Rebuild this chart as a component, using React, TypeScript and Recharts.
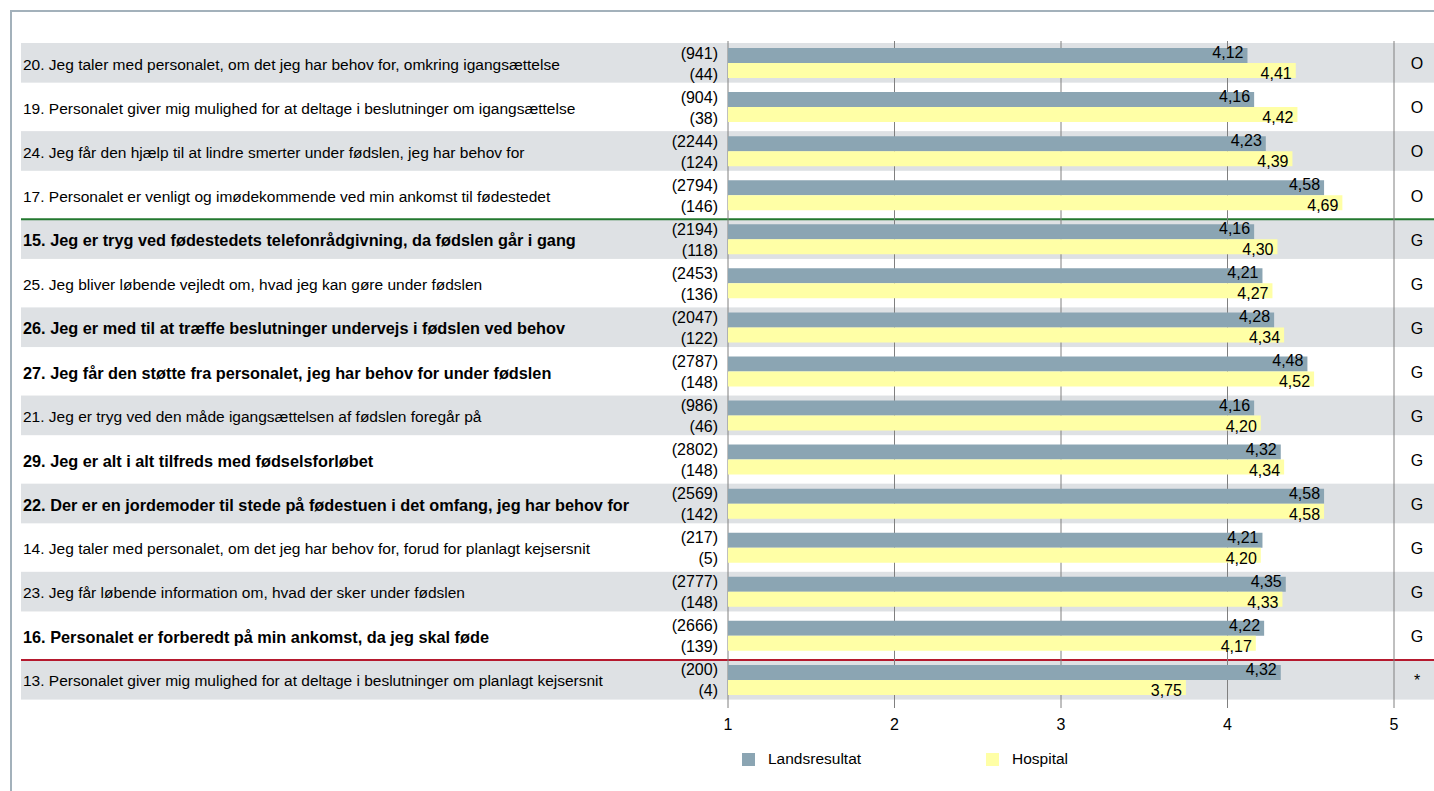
import React from 'react';
import {
  BarChart,
  Bar,
  XAxis,
  YAxis,
  CartesianGrid,
  LabelList,
} from 'recharts';

const QUESTIONS = [
  '20. Jeg taler med personalet, om det jeg har behov for, omkring igangsættelse',
  '19. Personalet giver mig mulighed for at deltage i beslutninger om igangsættelse',
  '24. Jeg får den hjælp til at lindre smerter under fødslen, jeg har behov for',
  '17. Personalet er venligt og imødekommende ved min ankomst til fødestedet',
  '15. Jeg er tryg ved fødestedets telefonrådgivning, da fødslen går i gang',
  '25. Jeg bliver løbende vejledt om, hvad jeg kan gøre under fødslen',
  '26. Jeg er med til at træffe beslutninger undervejs i fødslen ved behov',
  '27. Jeg får den støtte fra personalet, jeg har behov for under fødslen',
  '21. Jeg er tryg ved den måde igangsættelsen af fødslen foregår på',
  '29. Jeg er alt i alt tilfreds med fødselsforløbet',
  '22. Der er en jordemoder til stede på fødestuen i det omfang, jeg har behov for',
  '14. Jeg taler med personalet, om det jeg har behov for, forud for planlagt kejsersnit',
  '23. Jeg får løbende information om, hvad der sker under fødslen',
  '16. Personalet er forberedt på min ankomst, da jeg skal føde',
  '13. Personalet giver mig mulighed for at deltage i beslutninger om planlagt kejsersnit',
];
const BOLD = [false, false, false, false, true, false, true, true, false, true, true, false, false, true, false];
const NATIONAL_N = [941, 904, 2244, 2794, 2194, 2453, 2047, 2787, 986, 2802, 2569, 217, 2777, 2666, 200];
const NATIONAL = [4.12, 4.16, 4.23, 4.58, 4.16, 4.21, 4.28, 4.48, 4.16, 4.32, 4.58, 4.21, 4.35, 4.22, 4.32];
const HOSPITAL_N = [44, 38, 124, 146, 118, 136, 122, 148, 46, 148, 142, 5, 148, 139, 4];
const HOSPITAL = [4.41, 4.42, 4.39, 4.69, 4.30, 4.27, 4.34, 4.52, 4.20, 4.34, 4.58, 4.20, 4.33, 4.17, 3.75];
const GROUP = ['O', 'O', 'O', 'O', 'G', 'G', 'G', 'G', 'G', 'G', 'G', 'G', 'G', 'G', '*'];
const TICKS = [1, 2, 3, 4, 5];
const SERIES = ['Landsresultat', 'Hospital'];

// rows that get a coloured rule on top
const DIVIDERS: Record<number, string> = { 4: '#23782f', 14: '#b5192e' };

const W = 1434;
const H = 791;
const X_AXIS_H = 30;
const MARGIN = { top: 41, right: 40, bottom: 89 - X_AXIS_H, left: 0 };
const BAND = (H - 41 - 89) / QUESTIONS.length;
const FONT = '"Liberation Sans", Arial, sans-serif';
const GREY = '#8ba5b3';
const YELLOW = '#ffffa6';
const STRIPE = '#dee1e4';
const SERIES_COLORS = [GREY, YELLOW];

const data = QUESTIONS.map((name, i) => ({
  name,
  idx: i,
  bold: BOLD[i],
  nat: NATIONAL[i],
  natN: NATIONAL_N[i],
  hosp: HOSPITAL[i],
  hospN: HOSPITAL_N[i],
  group: GROUP[i],
}));

const fmt = (v: number) => v.toFixed(2).replace('.', ',');

const RowBackground = (props: any) => {
  const { y, height, payload } = props;
  return (
    <g>
      {payload.idx % 2 === 0 && <rect x={21} y={y} width={W - 21} height={height} fill={STRIPE} />}
      {DIVIDERS[payload.idx] && (
        <line x1={21} x2={W} y1={y} y2={y} stroke={DIVIDERS[payload.idx]} strokeWidth={2} />
      )}
      <text
        x={1417}
        y={y + height / 2 + 1}
        textAnchor="middle"
        dominantBaseline="central"
        fontSize={16}
        fontFamily={FONT}
        fill="#000"
      >
        {payload.group}
      </text>
    </g>
  );
};

const QuestionTick = (props: any) => {
  const { y, index } = props;
  const row = data[index];
  return (
    <text
      x={23}
      y={y + 1}
      dominantBaseline="central"
      fontSize={row.bold ? 16.3 : 15.5}
      fontFamily={FONT}
      fontWeight={row.bold ? 'bold' : 'normal'}
      fill="#000"
    >
      {row.name}
    </text>
  );
};

const renderCount = (dy: number) => (props: any) => {
  const { y, height, value } = props;
  return (
    <text
      x={718}
      y={Number(y) + Number(height) / 2 + dy}
      textAnchor="end"
      dominantBaseline="central"
      fontSize={16}
      fontFamily={FONT}
      fill="#000"
    >
      ({value})
    </text>
  );
};

const renderValue = (dy: number) => (props: any) => {
  const { x, y, width, height, value } = props;
  return (
    <text
      x={Number(x) + Number(width) - 4}
      y={Number(y) + Number(height) / 2 + dy}
      textAnchor="end"
      dominantBaseline="central"
      fontSize={16}
      fontFamily={FONT}
      fill="#000"
    >
      {fmt(value)}
    </text>
  );
};

const App: React.FC = () => {
  return (
    <div
      style={{
        position: 'absolute',
        left: 0,
        top: 0,
        width: W,
        height: H,
        overflow: 'hidden',
        background: '#fff',
      }}
    >
      <div
        style={{
          position: 'absolute',
          left: 10,
          top: 10,
          width: W + 20,
          height: H + 20,
          border: '2px solid #a3b1bb',
        }}
      />
      <div style={{ position: 'absolute', left: 0, top: 0 }}>
        <BarChart width={W} height={H} data={data} layout="vertical" margin={MARGIN} barGap={0}>
          <XAxis
            type="number"
            domain={[1, 5]}
            ticks={TICKS}
            height={X_AXIS_H}
            axisLine={false}
            tickLine={{ stroke: '#808080' }}
            tickSize={6}
            tickMargin={11}
            tick={{ fontSize: 16, fontFamily: FONT, fill: '#000' }}
          />
          <YAxis
            type="category"
            dataKey="name"
            width={728}
            axisLine={false}
            tickLine={false}
            interval={0}
            tick={<QuestionTick />}
          />
          <YAxis yAxisId="bg" type="category" dataKey="name" hide />
          <Bar
            yAxisId="bg"
            dataKey={() => 5}
            barSize={BAND}
            shape={<RowBackground />}
            isAnimationActive={false}
            legendType="none"
            zIndex={-200}
          />
          <CartesianGrid horizontal={false} stroke="#808080" />
          <Bar dataKey="nat" name={SERIES[0]} fill={GREY} barSize={15} isAnimationActive={false}>
            <LabelList dataKey="natN" content={renderCount(-2.5)} />
            <LabelList dataKey="nat" content={renderValue(-3)} />
          </Bar>
          <Bar dataKey="hosp" name={SERIES[1]} fill={YELLOW} barSize={15} isAnimationActive={false}>
            <LabelList dataKey="hospN" content={renderCount(3.5)} />
            <LabelList dataKey="hosp" content={renderValue(3)} />
          </Bar>
        </BarChart>
      </div>
      {/* legend */}
      <div
        style={{
          position: 'absolute',
          left: 742,
          top: 750,
          display: 'flex',
          fontFamily: FONT,
          fontSize: 15.5,
          color: '#000',
        }}
      >
        {SERIES.map((label, i) => (
          <div key={label} style={{ display: 'flex', alignItems: 'center', width: 244 }}>
            <span style={{ width: 13, height: 13, background: SERIES_COLORS[i], marginRight: 13 }} />
            <span>{label}</span>
          </div>
        ))}
      </div>
    </div>
  );
};

export default App;
